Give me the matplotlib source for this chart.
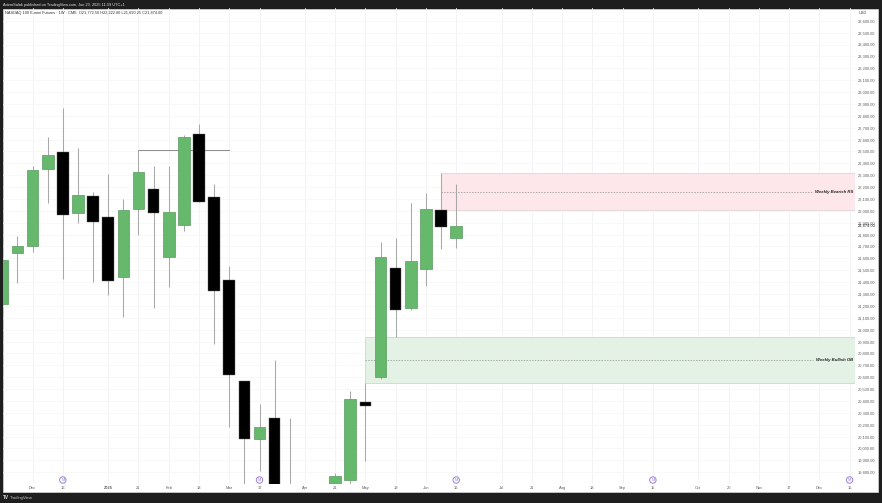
"""NASDAQ 100 E-mini weekly candles with two marked supply/demand zones."""

import matplotlib

matplotlib.use("Agg")
import matplotlib.pyplot as plt
import numpy as np
from matplotlib.patches import Circle, Rectangle

nan = float("nan")

# weekly OHLC; bars 20 and 21 sit completely below the visible range
opens = [21214, 21643, 21704, 22355, 22493, 21979, 22122, 21946, 21441, 22013,
         22184, 21614, 21878, 22649, 22114, 21421, 20566, 20083, 20257, 19600,
         nan, nan, 19600, 19732, 20391, 20604, 21519, 21185, 21511, 22005, 21772.5]
highs = [21586, 21791, 22380, 22619, 22863, 22526, 22156, 22310, 22097, 22509,
         22380, 22380, 22638, 22731, 22226, 21536, 20571, 20375, 20742, 20254,
         nan, nan, 19796, 20484, 20547, 21738, 21769, 22068, 22148, 22316, 22222]
lows = [21214, 21390, 21651, 22066, 21424, 21895, 21401, 21292, 21109, 21794,
        21180, 21362, 21833, 22072, 20879, 20181, 19600, 19813, 19400, 19300,
        nan, nan, 19500, 19704, 19892, 20587, 20936, 21163, 21370, 21681, 21690.25]
closes = [21586, 21702, 22344, 22470, 21965, 22131, 21906, 21412, 22005, 22324,
          21984, 21988, 22619, 22072, 21323, 20619, 20080, 20178, 19500, 19500,
          nan, nan, 19766, 20414, 20358, 21609, 21163, 21575, 22015, 21861, 21874]

week_ticks = [2, 4, 7, 9, 11, 13, 15, 17, 20, 22, 24, 26, 28, 30, 33, 35, 37, 39,
              41, 43, 46, 48, 50, 52, 54, 56]
week_labels = ["Dec", "16", "2025", "21", "Feb", "18", "Mar", "17", "Apr", "21",
               "May", "19", "Jun", "16", "Jul", "21", "Aug", "18", "Sep", "15",
               "Oct", "20", "Nov", "17", "Dec", "15"]
event_weeks = [4, 17, 30, 43, 56]

price_ticks = list(range(19800, 23700, 100))
last_close = 21874

bear_zone = (22005, 22316, 22158)
bull_zone = (20549, 20936, 20742)
bear_start = 29
bull_start = 24
swing_line = (9, 15, 22509)

W, H = 882, 503
GREEN = "#66b96c"
GREEN_EDGE = "#5a9a60"
WICK = "#a8a8a8"
TEXT = "#5f5f5f"
FS = 2.9

plt.rcParams["font.family"] = ["Liberation Sans", "DejaVu Sans"]

fig = plt.figure(figsize=(W / 100, H / 100), dpi=100, facecolor="#1e1e1e")
fig.add_artist(Rectangle((3 / W, 1 - 492 / H), 875 / W, 483.5 / H, transform=fig.transFigure,
                         facecolor="white", edgecolor="#d8d8d8", linewidth=0.5, zorder=-1))

ax = fig.add_axes([3 / W, 1 - 484 / H, 852 / W, 475.5 / H])
ax.patch.set_alpha(0)
ax.set_xlim(0.046, 56.36)
ax.set_ylim(19701, 23703)
for spine in ax.spines.values():
    spine.set_visible(False)

ax.yaxis.tick_right()
ax.set_yticks(price_ticks, [f"{p:,.2f}" for p in price_ticks], fontsize=FS, color=TEXT)
ax.set_xticks(week_ticks, week_labels, fontsize=FS, color=TEXT)
ax.get_xticklabels()[2].set_fontweight("bold")
ax.tick_params(axis="y", length=0, pad=2.2)
ax.tick_params(axis="x", length=0, pad=1.4)
ax.grid(True, axis="x", color="#f0f1f3", linewidth=0.6)
ax.grid(True, axis="y", color="#f7f7f8", linewidth=0.6)
ax.set_axisbelow(True)

for (low, high, mid), start, fill, edge in [
    (bear_zone, bear_start, "#fde7ea", "#e6d9dc"),
    (bull_zone, bull_start, "#e4f2e5", "#d2dcd3"),
]:
    ax.add_patch(Rectangle((start, low), 56.36 - start, high - low, facecolor=fill,
                           edgecolor=edge, linewidth=0.7, zorder=1.2))
    ax.plot([start, 53.6], [mid, mid], color="#8a8a8a", linewidth=0.5,
            linestyle=(0, (2, 2)), zorder=1.3)

ax.text(56.25, bear_zone[2], "Weekly Bearish RS", fontsize=3.1, fontweight="bold", style="italic",
        color="#222222", ha="right", va="center", zorder=4)
ax.text(56.25, bull_zone[2], "Weekly Bullish OB", fontsize=3.1, fontweight="bold", style="italic",
        color="#222222", ha="right", va="center", zorder=4)

ax.plot(swing_line[:2], [swing_line[2]] * 2, color="#8c8c8c", linewidth=0.7, zorder=2)

xs = np.arange(len(opens))
o, h, l, c = map(np.array, (opens, highs, lows, closes))
ok = ~np.isnan(o)
up = ok & (c >= o)
down = ok & (c < o)
ax.vlines(xs[ok], l[ok], h[ok], color=WICK, linewidth=0.75, zorder=2)
ax.bar(xs[up], (c - o)[up], bottom=o[up], width=0.77, color=GREEN,
       edgecolor=GREEN_EDGE, linewidth=0.5, zorder=3)
ax.bar(xs[down], (c - o)[down], bottom=o[down], width=0.77, color="black",
       edgecolor="#666666", linewidth=0.3, zorder=3)

# event badges sit at a fixed height above the time axis
for week in event_weeks:
    x_px = 2.3 + 15.13 * week
    fig.add_artist(Circle((x_px, H - 480), 3.2, transform=None, facecolor="white",
                          edgecolor="#9a7fd6", linewidth=0.7))
    fig.text(x_px / W, 1 - 480 / H, "M", fontsize=2.8, color="#9a7fd6", ha="center", va="center")

# header, footer and price scale extras
fig.text(3 / W, 1 - 4.7 / H, "ArtemSalak published on TradingView.com, Jun 23, 2025 11:59 UTC+1",
         fontsize=2.8, color="#e2e2e2", va="center")
fig.text(5 / W, 1 - 13 / H, "NASDAQ 100 E-mini Futures · 1W · CME  O21,772.50 H22,222.00 L21,690.25 C21,874.00",
         fontsize=2.8, color="#2e2e2e", va="center")
fig.text(3 / W, 1 - 497.5 / H, "TV", fontsize=3.4, fontweight="bold", color="#e2e2e2", va="center")
fig.text(10 / W, 1 - 497.5 / H, "TradingView", fontsize=3.1, color="#c8c8c8", va="center")
fig.text(862.5 / W, 1 - 13 / H, "USD", fontsize=2.8, color="#444444", va="center", ha="center")
ax.text(1 + 3 / 852, last_close, f"{last_close:,.2f}", transform=ax.get_yaxis_transform(), fontsize=FS,
        color="#222222", va="center", ha="left", zorder=5)

fig.savefig("out.png", dpi=100, facecolor=fig.get_facecolor())
plt.close(fig)
